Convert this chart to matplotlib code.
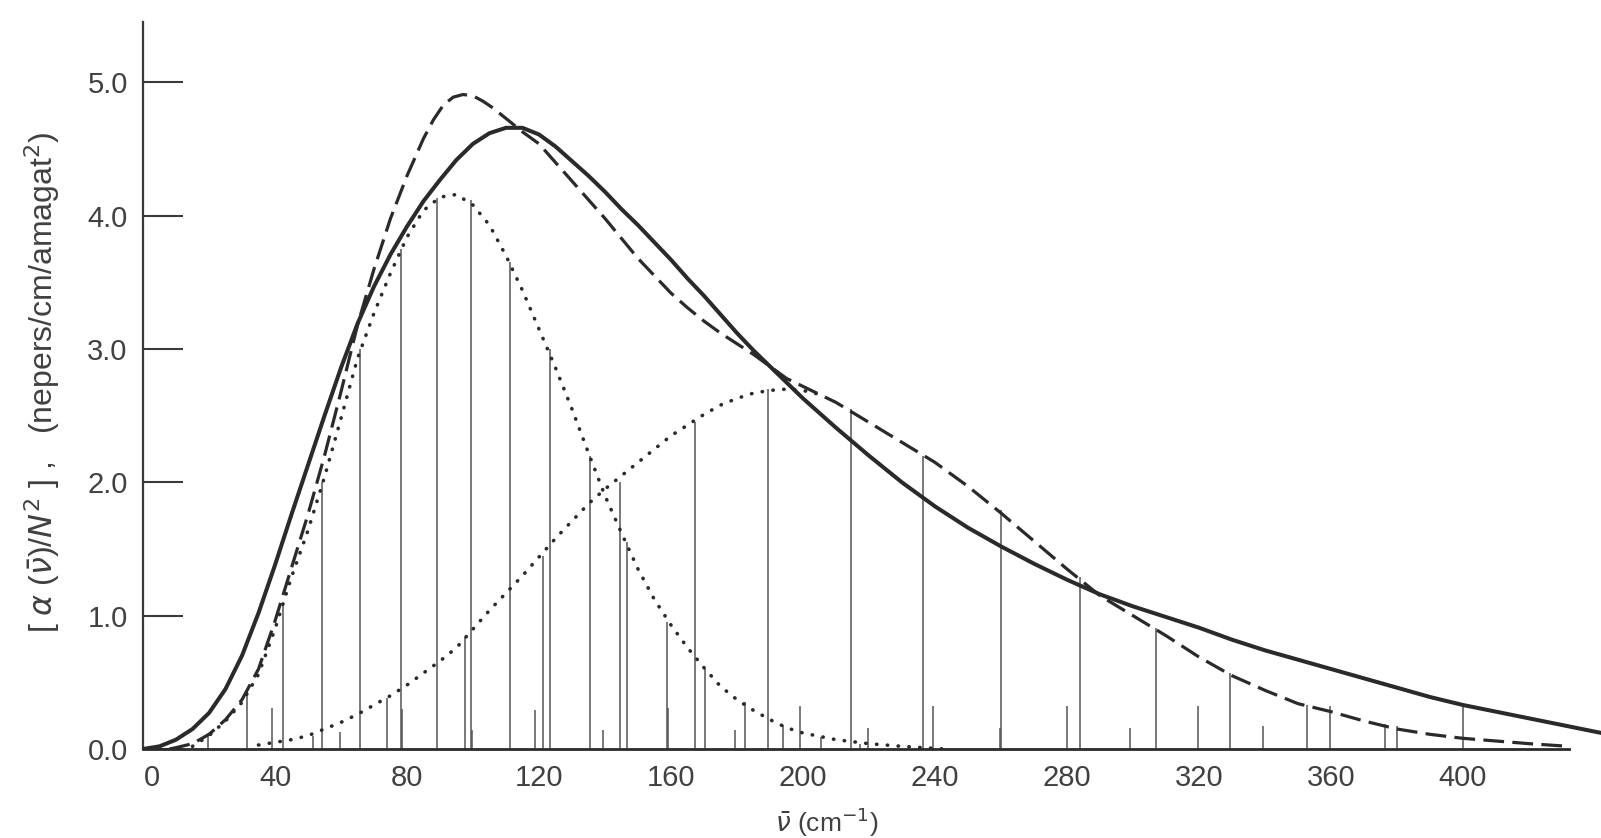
import matplotlib
matplotlib.use("Agg")
import matplotlib.pyplot as plt
import matplotlib.transforms as mtransforms

plt.rcParams['font.family'] = ['Liberation Sans', 'DejaVu Sans']
plt.rcParams['mathtext.fontset'] = 'dejavusans'

# Wavenumber axis (cm^-1) and absorption values (nepers/cm/amagat^2)
total_x = [0, 5, 10, 15, 20, 25, 30, 35, 40, 45, 50, 55, 60, 65, 70, 75, 80, 85, 90, 95,
           100, 105, 110, 115, 120, 125, 130, 135, 140, 145, 150, 155, 160, 165, 170, 175,
           180, 185, 190, 195, 200, 210, 220, 230, 240, 250, 260, 270, 280, 290, 300, 310,
           320, 330, 340, 350, 360, 370, 380, 390, 400, 410, 420, 430, 442]
total_y = [0.0, 0.02, 0.07, 0.15, 0.27, 0.45, 0.70, 1.02, 1.38, 1.76, 2.13, 2.50, 2.86, 3.19,
           3.47, 3.71, 3.92, 4.11, 4.27, 4.42, 4.54, 4.62, 4.66, 4.66, 4.61, 4.52, 4.41, 4.30,
           4.18, 4.05, 3.93, 3.80, 3.67, 3.53, 3.40, 3.26, 3.12, 2.99, 2.87, 2.75, 2.63, 2.41,
           2.20, 2.00, 1.82, 1.66, 1.52, 1.39, 1.27, 1.16, 1.07, 0.99, 0.91, 0.82, 0.74, 0.67,
           0.60, 0.53, 0.46, 0.39, 0.33, 0.28, 0.23, 0.18, 0.12]

sum_x = [8, 10, 15, 20, 25, 30, 35, 40, 45, 50, 55, 60, 65, 70, 75, 80, 85, 88, 91, 94,
         97, 100, 103, 106, 110, 115, 120, 125, 130, 135, 140, 145, 150, 155, 160, 165,
         170, 175, 180, 185, 190, 195, 200, 210, 220, 230, 240, 250, 260, 270, 280, 290,
         300, 310, 320, 330, 340, 350, 360, 370, 380, 390, 400, 410, 420, 432]
sum_y = [0.0, 0.01, 0.04, 0.11, 0.22, 0.37, 0.60, 0.96, 1.36, 1.76, 2.20, 2.68, 3.18, 3.60,
         3.98, 4.30, 4.58, 4.72, 4.83, 4.89, 4.91, 4.90, 4.86, 4.81, 4.73, 4.63, 4.54, 4.40,
         4.26, 4.12, 3.98, 3.83, 3.68, 3.55, 3.42, 3.31, 3.21, 3.12, 3.04, 2.96, 2.87,
         2.78, 2.72, 2.60, 2.45, 2.30, 2.15, 1.97, 1.77, 1.56, 1.35, 1.15, 1.00, 0.85,
         0.69, 0.55, 0.44, 0.34, 0.28, 0.21, 0.15, 0.11, 0.08, 0.06, 0.04, 0.02]

band1_x = [15, 20, 25, 30, 35, 40, 45, 50, 55, 60, 65, 70, 75, 80, 85, 90, 95, 100, 105,
           110, 115, 120, 125, 130, 135, 140, 145, 150, 155, 160, 165, 170, 175, 180, 185,
           190, 195, 200, 210, 220, 230, 243]
band1_y = [0.02, 0.10, 0.21, 0.35, 0.56, 0.90, 1.29, 1.64, 2.04, 2.48, 2.93, 3.27, 3.57,
           3.84, 4.04, 4.14, 4.16, 4.08, 3.93, 3.70, 3.44, 3.15, 2.86, 2.55, 2.22, 1.90,
           1.62, 1.35, 1.12, 0.93, 0.76, 0.61, 0.47, 0.37, 0.29, 0.22, 0.16, 0.12, 0.07,
           0.04, 0.02, 0.0]

band2_x = [35, 40, 45, 50, 55, 60, 65, 70, 75, 80, 85, 90, 95, 100, 105, 110, 115, 120,
           125, 130, 135, 140, 145, 150, 155, 160, 165, 170, 175, 180, 185, 190, 195, 200, 205]
band2_y = [0.03, 0.05, 0.07, 0.10, 0.15, 0.20, 0.26, 0.33, 0.40, 0.48, 0.57, 0.66, 0.76,
           0.90, 1.04, 1.17, 1.30, 1.44, 1.58, 1.71, 1.84, 1.95, 2.05, 2.15, 2.25, 2.35,
           2.43, 2.51, 2.58, 2.63, 2.67, 2.69, 2.70, 2.69, 2.66]

# Line positions and intensities
lines1_x = [31.5, 42.5, 54.2, 65.8, 78.3, 89.0, 99.5, 111.2, 123.3, 135.5, 146.7, 158.8,
            170.3, 182.4, 194.0, 205.6, 217.2]
lines1_h = [0.45, 1.08, 2.0, 3.0, 3.75, 4.13, 4.12, 3.65, 3.0, 2.2, 1.55, 0.95, 0.6,
            0.35, 0.18, 0.09, 0.04]

lines2_x = [51.6, 73.9, 97.5, 121.3, 144.5, 167.3, 189.4, 214.5, 236.4, 260.0, 284.0,
            307.0, 329.4, 352.7, 376.5]
lines2_h = [0.10, 0.38, 0.84, 1.45, 2.0, 2.45, 2.7, 2.55, 2.2, 1.79, 1.29, 0.91, 0.57,
            0.33, 0.19]

lines3_x = [39.0, 78.5, 118.8, 159.0, 199.0, 239.4, 280.0, 319.7, 359.7, 400.0]
lines3_h = [0.31, 0.30, 0.29, 0.31, 0.32, 0.32, 0.32, 0.32, 0.32, 0.33]

lines4_x = [19.7, 59.7, 99.7, 139.4, 179.4, 219.7, 259.7, 299.0, 339.4, 380.0]
lines4_h = [0.12, 0.13, 0.14, 0.14, 0.14, 0.16, 0.16, 0.16, 0.17, 0.17]

yticks = [0.0, 1.0, 2.0, 3.0, 4.0, 5.0]
xticks = [0, 40, 80, 120, 160, 200, 240, 280, 320, 360, 400]

ink = '#2a2a2a'
stick_col = '#555555'
text_col = '#404040'

fig = plt.figure(figsize=(16.01, 8.38), dpi=100)
ax = fig.add_axes([143 / 1601, 89 / 838, 1 - 143 / 1601, 727 / 838])
ax.set_xlim(0, 1458 / 3.3)
ax.set_ylim(0, 727 / 133.3)

for xs, hs in ((lines1_x, lines1_h), (lines2_x, lines2_h),
               (lines3_x, lines3_h), (lines4_x, lines4_h)):
    ax.vlines(xs, 0, hs, colors=stick_col, linewidth=1.1, zorder=2)

dot_style = dict(color=ink, linewidth=2.6, linestyle=(0, (0.1, 2.9)),
                 dash_capstyle='round', zorder=3)
ax.plot(band1_x, band1_y, **dot_style)
ax.plot(band2_x, band2_y, **dot_style)
ax.plot(sum_x, sum_y, color=ink, linewidth=2.3, linestyle=(0, (6.5, 2.6)), zorder=4)
ax.plot(total_x, total_y, color=ink, linewidth=2.9, solid_capstyle='round',
        solid_joinstyle='round', zorder=5)

# baseline drawn only as far as the computed curves reach
ax.plot([0, sum_x[-1]], [0, 0], color=ink, linewidth=2.0, zorder=6, clip_on=False)

for side in ('top', 'right', 'bottom'):
    ax.spines[side].set_visible(False)
ax.spines['left'].set_color('#3a3a3a')
ax.spines['left'].set_linewidth(1.6)

ax.set_yticks(yticks)
ax.set_yticklabels([f'{v:.1f}' for v in yticks])
ax.tick_params(axis='y', direction='in', length=29, width=1.5, pad=11,
               labelsize=21, color='#3a3a3a', labelcolor=text_col)
ax.set_xticks(xticks)
ax.set_xticklabels([str(v) for v in xticks])
ax.tick_params(axis='x', length=0, pad=11, labelsize=21, labelcolor=text_col)

# nudge the "0" label off the vertical axis
first = ax.get_xticklabels()[0]
first.set_transform(first.get_transform() +
                    mtransforms.ScaledTranslation(9 / 100, 0, fig.dpi_scale_trans))

fig.text(827 / 1601, 1 - 822 / 838, r'$\bar{\nu}$ (cm$^{-1}$)', ha='center', va='center',
         fontsize=19, color=text_col)
fig.text(42 / 1601, 1 - 382 / 838,
         r'[ $\alpha$ ($\bar{\nu}$)/$N^2$ ] ,   (nepers/cm/amagat$^2$)',
         ha='center', va='center', rotation=90, fontsize=23, color=text_col)

fig.savefig('out.png', dpi=100, facecolor='white')
